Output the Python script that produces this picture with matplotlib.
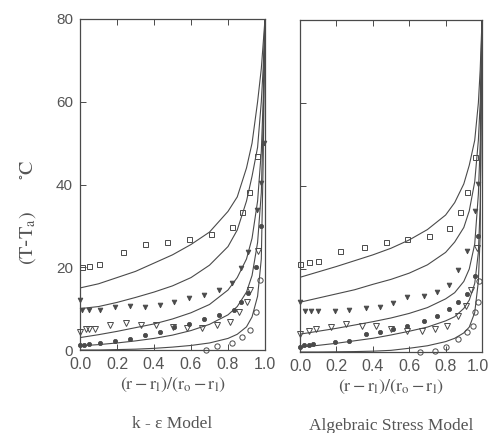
import matplotlib
matplotlib.use("Agg")
import matplotlib.pyplot as plt
import matplotlib.transforms as mtransforms

plt.rcParams['mathtext.fontset'] = 'stix'

# ---------------- data: k-epsilon model (left) ----------------
curve_x = [0.0, 0.1, 0.2, 0.3, 0.4, 0.5, 0.6, 0.7, 0.8, 0.85, 0.9, 0.93, 0.96, 0.98, 0.99, 1.0]
ke_c1 = [15, 16, 17.5, 19, 21, 23, 25.5, 28.5, 33.5, 37, 44, 50, 60, 68, 74, 80]
ke_c2 = [10, 10.5, 11.5, 12.7, 14, 15.5, 17.5, 20.5, 25, 29, 36, 42, 49, 60, 68, 80]
ke_c3 = [3, 3.7, 4.5, 5.4, 6.3, 7.5, 9, 11, 14.5, 17.5, 22, 27, 36, 48, 60, 80]
ke_c4 = [1, 1.3, 1.7, 2.2, 2.8, 3.6, 4.7, 6.2, 8.5, 10.5, 14, 18, 26, 38, 55, 80]
ke_c5 = [0, 0, 0.1, 0.2, 0.4, 0.7, 1.1, 1.7, 2.8, 3.8, 5.6, 8, 13, 22, 45, 80]

ke_sq_x = [0.01, 0.05, 0.1, 0.23, 0.35, 0.47, 0.59, 0.71, 0.82, 0.876, 0.914, 0.957]
ke_sq_y = [20, 20.3, 20.8, 23.8, 25.5, 26.2, 26.9, 28.1, 29.8, 33.4, 38.2, 47]
ke_ft_x = [0.0, 0.01, 0.05, 0.11, 0.19, 0.27, 0.35, 0.43, 0.51, 0.59, 0.67, 0.75, 0.82, 0.87, 0.91, 0.955, 0.98, 0.995]
ke_ft_y = [12, 9.7, 9.7, 9.7, 10.4, 10.6, 10.4, 10.9, 11.6, 12.6, 13.3, 14.5, 16.2, 19.8, 23.7, 33.8, 40.3, 50]
ke_ot_x = [0.0, 0.03, 0.05, 0.08, 0.16, 0.25, 0.33, 0.41, 0.5, 0.58, 0.66, 0.74, 0.81, 0.86, 0.9, 0.92, 0.96]
ke_ot_y = [4.3, 5, 5, 5, 6, 6.5, 6, 6, 5.6, 5.3, 5.3, 6, 6.8, 9.2, 11.6, 14.5, 24]
ke_fc_x = [0.0, 0.02, 0.05, 0.11, 0.19, 0.27, 0.35, 0.43, 0.51, 0.59, 0.67, 0.75, 0.83, 0.87, 0.91, 0.95, 0.98]
ke_fc_y = [1.2, 1.3, 1.5, 1.7, 2.2, 2.7, 3.6, 4.3, 5.6, 6.3, 7.5, 8.5, 9.7, 11.6, 13.8, 20, 30]
ke_oc_x = [0.68, 0.74, 0.82, 0.875, 0.92, 0.95, 0.975]
ke_oc_y = [0, 0.9, 1.7, 3.1, 4.8, 9.2, 17]

# ---------------- data: algebraic stress model (right) ----------------
asm_c1 = [18, 19.3, 20.6, 22, 23.4, 25, 27, 29.5, 33, 36, 40.5, 45, 51, 60, 68, 80]
asm_c2 = [12, 13, 14, 15, 16.3, 17.5, 19, 21, 24, 26.5, 30, 34, 41, 51, 60, 80]
asm_c3 = [4.3, 5, 5.7, 6.5, 7.3, 8.2, 9.3, 10.7, 12.8, 14.3, 17, 20, 26, 38, 50, 80]
asm_c4 = [1.2, 1.6, 2.1, 2.7, 3.3, 4.1, 5, 6, 7.5, 8.5, 10.5, 12.5, 16.5, 24, 35, 80]
asm_c5 = [0, 0, 0.05, 0.1, 0.2, 0.4, 0.9, 1.5, 2.5, 3.3, 4.6, 6, 9.5, 17, 28, 80]

asm_sq_x = [0.0, 0.05, 0.1, 0.22, 0.35, 0.47, 0.59, 0.71, 0.82, 0.88, 0.92, 0.96]
asm_sq_y = [21.2, 21.7, 21.9, 24.3, 25.3, 26.5, 27.2, 28, 30, 33.7, 38.5, 47]
asm_ft_x = [0.0, 0.03, 0.06, 0.1, 0.19, 0.27, 0.36, 0.44, 0.51, 0.59, 0.68, 0.75, 0.82, 0.87, 0.92, 0.96, 0.98]
asm_ft_y = [12, 9.9, 9.9, 9.9, 9.9, 10.1, 10.6, 10.8, 11.8, 13.3, 13.5, 14.5, 16.1, 19.8, 24.3, 34, 40.5]
asm_ot_x = [0.0, 0.05, 0.09, 0.17, 0.25, 0.34, 0.42, 0.5, 0.59, 0.67, 0.74, 0.81, 0.87, 0.91, 0.94, 0.97]
asm_ot_y = [4.3, 5, 5.5, 6, 6.7, 6.3, 6.3, 5.5, 5.1, 5.1, 5.5, 6.3, 8.7, 11.1, 15, 25]
asm_fc_x = [0.0, 0.02, 0.05, 0.07, 0.19, 0.27, 0.36, 0.44, 0.51, 0.59, 0.68, 0.75, 0.82, 0.87, 0.92, 0.96, 0.98]
asm_fc_y = [1.2, 1.6, 1.8, 2.0, 2.4, 2.7, 4.3, 4.8, 5.5, 6.3, 7.5, 8.7, 10.4, 12, 14, 18.3, 28]
asm_oc_x = [0.66, 0.74, 0.8, 0.87, 0.92, 0.95, 0.96, 0.98, 0.985]
asm_oc_y = [0.1, 0.3, 1.2, 3.1, 4.8, 6.3, 9.6, 12, 17]

x_ticks = [0.0, 0.2, 0.4, 0.6, 0.8, 1.0]
x_tick_labels = ['0.0', '0.2', '0.4', '0.6', '0.8', '1.0']
y_ticks = [0, 20, 40, 60, 80]
y_tick_labels = ['0', '20', '40', '60', '80']
titles = ['k - \u03b5 Model', 'Algebraic Stress Model']

ink = '#4a4a4a'
txt = '#555555'
W, H = 491, 433
fig = plt.figure(figsize=(W / 100, H / 100), dpi=100)

axL = fig.add_axes([80 / W, 1 - 350 / H, 185 / W, 331 / H])
axR = fig.add_axes([300 / W, 1 - 352 / H, 182 / W, 332 / H])

panels = [
    (axL, [ke_c1, ke_c2, ke_c3, ke_c4, ke_c5],
     [(ke_sq_x, ke_sq_y), (ke_ft_x, ke_ft_y), (ke_ot_x, ke_ot_y), (ke_fc_x, ke_fc_y), (ke_oc_x, ke_oc_y)]),
    (axR, [asm_c1, asm_c2, asm_c3, asm_c4, asm_c5],
     [(asm_sq_x, asm_sq_y), (asm_ft_x, asm_ft_y), (asm_ot_x, asm_ot_y), (asm_fc_x, asm_fc_y), (asm_oc_x, asm_oc_y)]),
]

styles = [
    dict(marker='s', mfc='none', mec=ink, ms=3.6, mew=0.7),
    dict(marker='v', mfc=ink, mec=ink, ms=3.4, mew=0.6),
    dict(marker='v', mfc='none', mec=ink, ms=3.8, mew=0.7),
    dict(marker='o', mfc=ink, mec=ink, ms=3.0, mew=0.6),
    dict(marker='o', mfc='none', mec=ink, ms=3.8, mew=0.7),
]

for i, (ax, curves, marks) in enumerate(panels):
    for c in curves:
        ax.plot(curve_x, c, color=ink, lw=0.8, clip_on=True)
    for (mx, my), st in zip(marks, styles):
        ax.plot(mx, my, ls='none', clip_on=False, **st)
    ax.set_xlim(0, 1.0)
    ax.set_ylim(0, 80)
    ax.set_xticks(x_ticks)
    ax.set_xticklabels(x_tick_labels, fontsize=11.5, color=txt, family='Liberation Sans')
    ax.set_yticks(y_ticks)
    if i == 0:
        ax.set_yticklabels(y_tick_labels, fontsize=11, color=txt, family='Liberation Sans')
    else:
        ax.set_yticklabels([])
    ax.tick_params(direction='in', length=4, width=0.7, color=ax.spines['left'].get_edgecolor() if False else ink,
                   top=True, right=False, pad=5)
    for s in ax.spines.values():
        s.set_color(ink)
        s.set_linewidth(0.9)
    ax.set_xlabel(r'$(\mathrm{r}-\mathrm{r}_{\mathrm{l}})/(\mathrm{r}_{\mathrm{o}}-\mathrm{r}_{\mathrm{l}})$',
                  fontsize=13, color=txt, labelpad=3)
    ax.text(0.5, -0.2, titles[i], transform=ax.transAxes, ha='center', va='top',
            fontsize=12.5, color=txt, family='Liberation Serif')

# keep the last tick label of the right panel inside the figure
last = axR.get_xticklabels()[-1]
last.set_transform(last.get_transform() + mtransforms.ScaledTranslation(-4 / 100, 0, fig.dpi_scale_trans))

fig.text(28 / W, 1 - 212 / H, r'$(\mathrm{T}$-$\mathrm{T}_{\mathrm{a}})$     $\mathrm{{}^{\circ}C}$',
         rotation=90, ha='center', va='center', fontsize=14.5, color=txt)

fig.savefig('out.png', dpi=100)
